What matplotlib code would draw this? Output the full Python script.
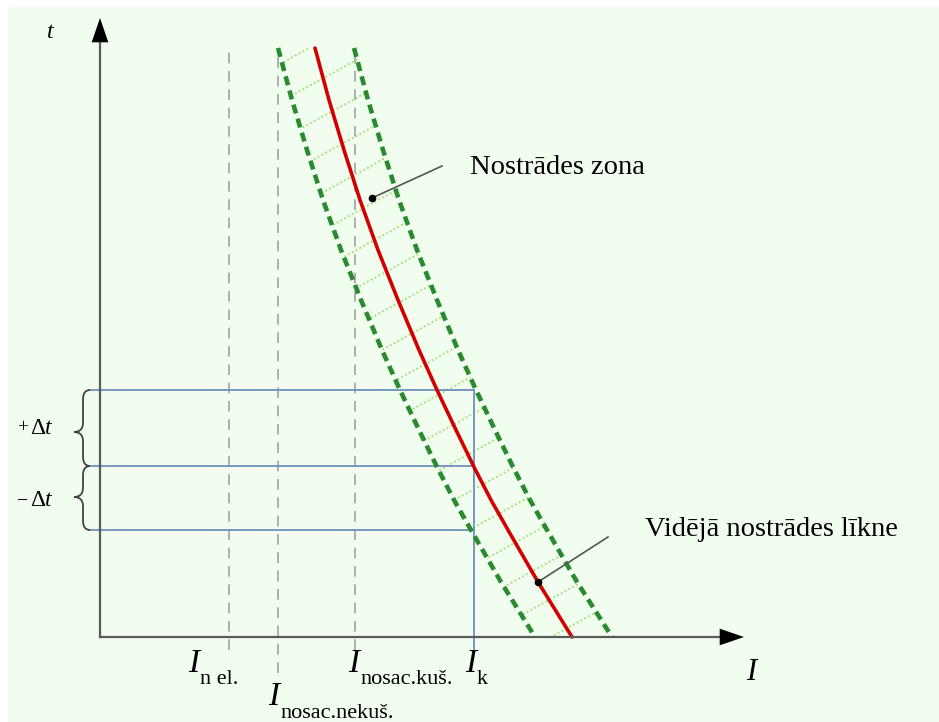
"""Time-current characteristic of a fuse with its tolerance zone."""

import matplotlib.pyplot as plt
import numpy as np
from matplotlib.patches import Polygon, Rectangle, PathPatch
from matplotlib.path import Path

# time levels (t, from the I axis up) where the curves were read
t_pts = [589, 537, 487, 437, 387, 337, 287, 247, 207, 170, 137, 107, 55, 0]
# average melting curve and the two borders of the tolerance zone (I values)
i_mid = [215, 229, 244, 260, 278, 298, 319, 337, 356, 374, 391, 408, 438, 472]
i_left = [178, 192, 207, 223, 241, 261, 282, 300, 319, 337, 354, 371, 401, 435]
i_right = [254, 268, 283, 299, 317, 337, 358, 376, 395, 413, 430, 447, 477, 512]

# characteristic currents on the I axis
i_nel = 129
i_nekus = 178
i_kus = 255
i_k = 374
i_k_labels = ['n el.', 'nosac.nekuš.', 'nosac.kuš.', 'k']

# time band around the operating point
t_upper = 247
t_k = 171
t_lower = 107

# annotated points: (I, t) of dot, (I, t) of line end
zona_dot = (272, 439)
zona_end = (342, 471)
vid_dot = (438, 55)
vid_end = (508, 100)

plt.rcParams['font.family'] = ['Liberation Serif', 'DejaVu Serif']

fig = plt.figure(figsize=(9.39, 7.22), dpi=100)
ax = fig.add_axes([0, 0, 1, 1])
ax.set_xlim(-100, 839)
ax.set_ylim(-85, 637)
ax.axis('off')

# pale green backdrop
ax.add_patch(Rectangle((-92, -85), 940, 715, facecolor='#f1fdee',
                       edgecolor='none', zorder=0))

# hatch between the zone borders, clipped to the zone
zone = Polygon(np.column_stack([i_left + i_right[::-1], t_pts + t_pts[::-1]]),
               closed=True, facecolor='none', edgecolor='none')
ax.add_patch(zone)
xs = np.array([100, 600])
for c in np.arange(-400, 700, 38):
    ln, = ax.plot(xs, 0.55 * xs + c, color='#a3dd70', lw=1.3,
                  linestyle=(0, (1, 1.4)), zorder=2)
    ln.set_clip_path(zone)

# dashed grey verticals
gray_dash = dict(color='#9a9a9a', lw=1.1, linestyle=(0, (7, 5)), zorder=1)
ax.plot([i_nel, i_nel], [-13, 589], **gray_dash)
ax.plot([i_nekus, i_nekus], [-36, 589], **gray_dash)
ax.plot([i_kus, i_kus], [-13, 589], **gray_dash)

# blue construction lines
blue = dict(color='#6f8fbf', lw=1.3, zorder=3)
for tt in [t_upper, t_k, t_lower]:
    ax.plot([-10, i_k], [tt, tt], **blue)
ax.plot([i_k, i_k], [-13, t_upper], **blue)

# curves
green = dict(color='#2a8a2f', lw=3.3, linestyle=(0, (2.0, 1.2)),
             dash_capstyle='butt', zorder=4)
ax.plot(i_left, t_pts, **green)
ax.plot(i_right, t_pts, **green)
ax.plot(i_mid, t_pts, color='#d20000', lw=2.6, solid_capstyle='round',
        solid_joinstyle='round', zorder=5)

# axes with arrows
axis_c = '#5a5a5a'
ax.plot([0, 0], [0, 598], color=axis_c, lw=1.6, zorder=6)
ax.plot([0, 626], [0, 0], color=axis_c, lw=1.6, zorder=6)
head = dict(arrowstyle='-|>,head_length=1.75,head_width=0.6', mutation_scale=10,
            color='black', lw=0, shrinkA=0, shrinkB=0)
ax.annotate('', xy=(0, 619), xytext=(0, 600), arrowprops=head, zorder=7)
ax.annotate('', xy=(644, 0), xytext=(625, 0), arrowprops=head, zorder=7)


def brace(t_top, t_bot, t_tip, x_end=-10, x_spine=-17, x_tip=-26, r=9):
    verts = [(x_end, t_top), (x_spine, t_top), (x_spine, t_top - r),
             (x_spine, t_tip + r), (x_spine, t_tip), (x_tip, t_tip),
             (x_spine, t_tip), (x_spine, t_tip - r),
             (x_spine, t_bot + r), (x_spine, t_bot), (x_end, t_bot)]
    codes = [Path.MOVETO, Path.CURVE3, Path.CURVE3,
             Path.LINETO, Path.CURVE3, Path.CURVE3,
             Path.CURVE3, Path.CURVE3,
             Path.LINETO, Path.CURVE3, Path.CURVE3]
    ax.add_patch(PathPatch(Path(verts, codes), facecolor='none',
                           edgecolor='#444444', lw=1.3, zorder=6))


brace(t_upper, t_k, 205)
brace(t_k, t_lower, 140)
for tt, sign in [(209, '+'), (136, '−')]:
    ax.text(-83, tt, sign, fontsize=14, va='center', ha='left')
    ax.text(-70, tt, 'Δ', fontsize=17, va='center', ha='left')
    ax.text(-55, tt, 't', fontsize=17, style='italic', va='center', ha='left')

# axis names
ax.text(-50, 604, 't', fontsize=17, style='italic', ha='center', va='center')
ax.text(651, -36, 'I', fontsize=22, style='italic', ha='center', va='center')

# current labels under the axis
label_pos = [(i_nel - 41, -27), (i_nekus - 10, -60), (i_kus - 7, -27), (i_k - 9, -27)]
for (x0, y0), sub in zip(label_pos, i_k_labels):
    ax.text(x0, y0, 'I', fontsize=24, style='italic', ha='left', va='center')
    ax.text(x0 + 12, y0 - 16, sub, fontsize=16, ha='left', va='center')

# callouts
for dot, end in [(zona_dot, zona_end), (vid_dot, vid_end)]:
    ax.plot([dot[0], end[0]], [dot[1], end[1]], color='#555555', lw=1.2, zorder=8)
    ax.plot(*dot, 'o', color='black', ms=4.5, zorder=9)
ax.text(370, 470, 'Nostrādes zona', fontsize=20.5, ha='left', va='center')
ax.text(545, 107, 'Vidējā nostrādes līkne', fontsize=20.5, ha='left', va='center')

fig.savefig('out.png', dpi=100)
